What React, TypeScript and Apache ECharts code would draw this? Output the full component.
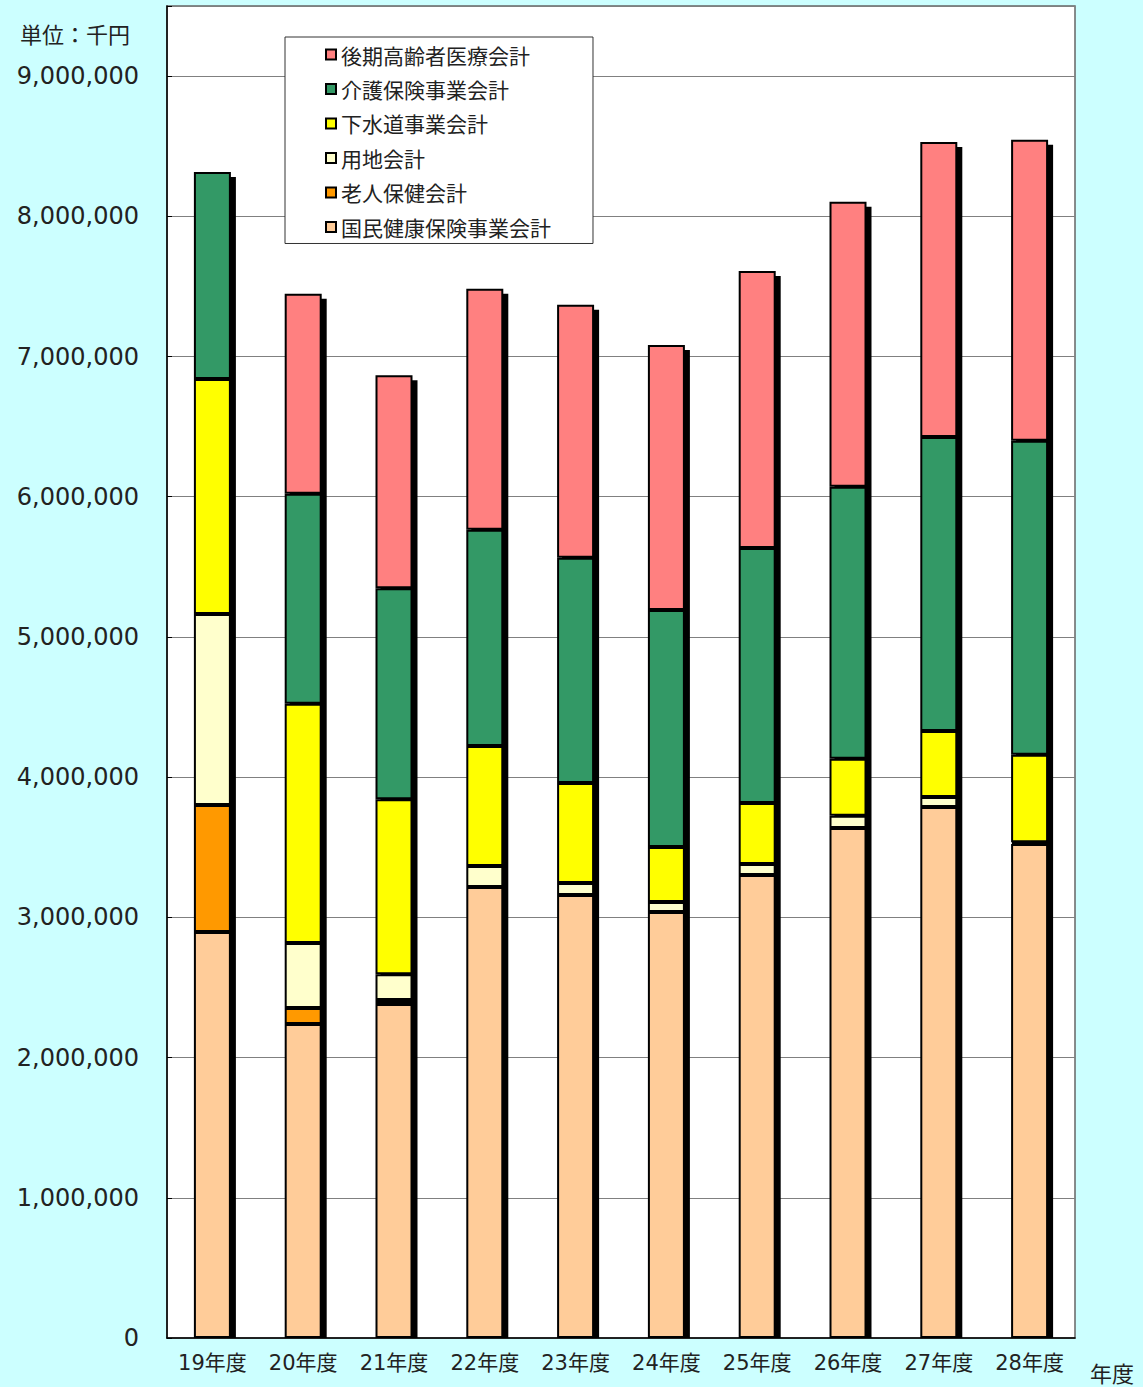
import React, { useEffect, useRef } from "react";
import * as echarts from "echarts";

// 年度別 特別会計の決算額（単位：千円）
const categories = ["19年度", "20年度", "21年度", "22年度", "23年度", "24年度", "25年度", "26年度", "27年度", "28年度"];
const kokuho = [2896000, 2240000, 2382000, 3217000, 3160000, 3039000, 3302000, 3638000, 3787000, 3524000];
const rojin = [906000, 114000, 28000, null, null, null, null, null, null, null];
const yochi = [1362000, 464000, 185000, 150000, 86000, 71000, 78000, 86000, 71000, 12000];
const gesuido = [1676000, 1705000, 1248000, 856000, 713000, 392000, 435000, 407000, 471000, 623000];
const kaigo = [1476000, 1498000, 1505000, 1541000, 1605000, 1690000, 1819000, 1940000, 2097000, 2240000];
const kouki = [null, 1427000, 1519000, 1719000, 1805000, 1890000, 1976000, 2033000, 2104000, 2147000];

const seriesDefs = [
  { name: "国民健康保険事業会計", data: kokuho, color: "#FFCC99" },
  { name: "老人保健会計", data: rojin, color: "#FF9900" },
  { name: "用地会計", data: yochi, color: "#FFFFCC" },
  { name: "下水道事業会計", data: gesuido, color: "#FFFF00" },
  { name: "介護保険事業会計", data: kaigo, color: "#339966" },
  { name: "後期高齢者医療会計", data: kouki, color: "#FF8080" },
];

const legendOrder = [
  "後期高齢者医療会計",
  "介護保険事業会計",
  "下水道事業会計",
  "用地会計",
  "老人保健会計",
  "国民健康保険事業会計",
];

const FONT = "'DejaVu Sans', 'Noto Sans CJK JP', sans-serif";
const CJK = "'Noto Sans CJK JP', sans-serif";
const BAR_W = 37;
const SHADOW = 5;

const totals = categories.map((_, i) =>
  seriesDefs.reduce((s, d) => s + ((d.data[i] as number | null) ?? 0), 0)
);

export default function App() {
  const ref = useRef<HTMLDivElement>(null);

  useEffect(() => {
    document.body.style.margin = "0";
    const chart = echarts.init(ref.current!, null, { renderer: "svg" });

    const barSeries = seriesDefs.map((d) => ({
      name: d.name,
      type: "bar",
      stack: "total",
      barWidth: BAR_W,
      z: 3,
      data: d.data,
      itemStyle: { color: d.color, borderColor: "#000", borderWidth: 2 },
    }));

    // drop shadow behind each stacked column
    const shadowSeries = {
      type: "custom",
      name: "shadow",
      z: 2,
      silent: true,
      data: totals.map((t, i) => [i, t]),
      encode: { x: 0, y: 1 },
      renderItem: (params: any, api: any) => {
        const top = api.coord([api.value(0), api.value(1)]);
        const base = api.coord([api.value(0), 0]);
        return {
          type: "rect",
          shape: {
            x: top[0] - BAR_W / 2 + SHADOW,
            y: top[1] + SHADOW,
            width: BAR_W,
            height: base[1] - top[1] - SHADOW,
          },
          style: { fill: "#000" },
        };
      },
    };

    chart.setOption({
      animation: false,
      backgroundColor: "#CCFFFF",
      textStyle: { fontFamily: FONT },
      grid: {
        left: 167,
        right: 68,
        top: 6,
        bottom: 49,
        show: true,
        backgroundColor: "#FFFFFF",
        borderColor: "#666",
        borderWidth: 1.5,
      },
      legend: {
        data: legendOrder,
        orient: "vertical",
        left: 285,
        top: 37,
        padding: [7, 42, 6, 40],
        itemGap: 13.5,
        itemWidth: 10,
        itemHeight: 10,
        icon: "rect",
        backgroundColor: "#FFFFFF",
        borderColor: "#333",
        borderWidth: 1,
        textStyle: { fontFamily: CJK, fontSize: 21, color: "#222" },
      },
      xAxis: {
        type: "category",
        data: categories,
        axisLine: { lineStyle: { color: "#000", width: 1.5 } },
        axisTick: { inside: true, length: 5, lineStyle: { color: "#000" } },
        axisLabel: { fontFamily: FONT, fontSize: 21, color: "#222", margin: 14 },
      },
      yAxis: {
        type: "value",
        min: 0,
        max: 9500000,
        interval: 1000000,
        axisLine: { show: true, lineStyle: { color: "#000", width: 1.5 } },
        axisTick: { show: true, inside: true, length: 5, lineStyle: { color: "#000" } },
        splitLine: { lineStyle: { color: "#808080", width: 1 } },
        axisLabel: {
          fontFamily: FONT,
          fontSize: 24,
          color: "#222",
          margin: 28,
          formatter: (v: number) => (v > 9000000 ? "" : v.toLocaleString("en-US")),
        },
      },
      graphic: [
        {
          type: "text",
          left: 20,
          top: 22,
          style: { text: "単位：千円", font: `22px ${CJK}`, fill: "#222" },
        },
        {
          type: "text",
          left: 1090,
          top: 1361,
          style: { text: "年度", font: `22px ${CJK}`, fill: "#222" },
        },
      ],
      series: [shadowSeries, ...barSeries],
    });

    return () => chart.dispose();
  }, []);

  return <div ref={ref} style={{ width: 1143, height: 1387 }} />;
}
